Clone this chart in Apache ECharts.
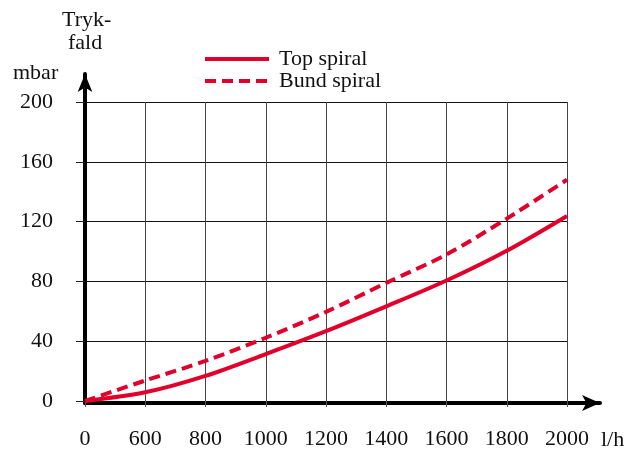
<!DOCTYPE html>
<html>
<head>
<meta charset="utf-8">
<script src="https://cdn.jsdelivr.net/npm/echarts@6/dist/echarts.min.js"></script>
<style>
  html, body { margin: 0; padding: 0; background: #fff; }
  #chart { width: 637px; height: 450px; }
</style>
</head>
<body>
<div id="chart"></div>
<script>
// flow in l/h, pressure drop in mbar
const flows = [0, 600, 800, 1000, 1200, 1400, 1600, 1800, 2000];
const topSpiral = [0, 5.8, 16.8, 31.4, 46.7, 63.3, 80.6, 100.5, 123.8];
const bundSpiral = [0, 13.7, 26.8, 42.3, 59.6, 79, 98, 122, 148];
const xTickLabels = [0, 600, 800, 1000, 1200, 1400, 1600, 1800, 2000];
const yTickLabels = [0, 40, 80, 120, 160, 200];

const RED = "#e1002b";
const FONT = "'Liberation Serif', 'DejaVu Serif', serif";
const FS = 22;

// the x axis is broken: 0..600 takes the room of one 200 step
const axisPos = (f) => (f < 600 ? 400 + f / 3 : f);
const posToLabel = (v) => {
  const i = xTickLabels.findIndex((t) => axisPos(t) === v);
  return i >= 0 ? String(xTickLabels[i]) : "";
};

const toPairs = (ys) => flows.map((f, i) => [axisPos(f), ys[i]]);

const chart = echarts.init(document.getElementById("chart"));

chart.setOption({
  animation: false,
  textStyle: { fontFamily: FONT },
  grid: [
    { left: 85, right: 70, top: 102, bottom: 47 },
    { left: 85, right: 37, top: 74, bottom: 47 },
  ],
  legend: {
    orient: "vertical",
    left: 198,
    top: 43,
    itemWidth: 64,
    itemHeight: 14,
    itemGap: 0,
    itemStyle: { opacity: 0 },
    lineStyle: { width: 4 },
    textStyle: { fontFamily: FONT, fontSize: FS, color: "#111", padding: [0, 0, 0, 5] },
    data: ["Top spiral", "Bund spiral"],
  },
  xAxis: [
    {
      gridIndex: 0,
      type: "value",
      min: 400,
      max: 2000,
      interval: 200,
      axisLine: { show: false },
      axisTick: { show: true, length: 6, lineStyle: { color: "#555" } },
      axisLabel: {
        margin: 27,
        fontFamily: FONT,
        fontSize: FS,
        color: "#111",
        formatter: posToLabel,
      },
      splitLine: { show: true, lineStyle: { color: "#444", width: 1 } },
    },
    {
      gridIndex: 1,
      type: "value",
      min: 0,
      max: 1,
      axisLine: {
        show: true,
        lineStyle: { color: "#000", width: 4 },
        symbol: ["none", "arrow"],
        symbolSize: [12, 18],
      },
      axisTick: { show: false },
      axisLabel: { show: false },
      splitLine: { show: false },
    },
  ],
  yAxis: [
    {
      gridIndex: 0,
      type: "value",
      min: 0,
      max: 200,
      interval: 40,
      axisLine: { show: false },
      axisTick: { show: true, length: 9, lineStyle: { color: "#222" } },
      axisLabel: {
        margin: 32,
        fontFamily: FONT,
        fontSize: FS,
        color: "#111",
        formatter: (v) => (yTickLabels.includes(v) ? String(v) : ""),
      },
      splitLine: { show: true, lineStyle: { color: "#111", width: 1 } },
    },
    {
      gridIndex: 1,
      type: "value",
      min: 0,
      max: 1,
      axisLine: {
        show: true,
        lineStyle: { color: "#000", width: 4 },
        symbol: ["none", "arrow"],
        symbolSize: [11, 18],
      },
      axisTick: { show: false },
      axisLabel: { show: false },
      splitLine: { show: false },
    },
  ],
  series: [
    {
      name: "Top spiral",
      type: "line",
      xAxisIndex: 0,
      yAxisIndex: 0,
      smooth: 0.3,
      symbol: "none",
      color: RED,
      lineStyle: { color: RED, width: 4 },
      data: toPairs(topSpiral),
      z: 5,
    },
    {
      name: "Bund spiral",
      type: "line",
      xAxisIndex: 0,
      yAxisIndex: 0,
      smooth: 0.3,
      symbol: "none",
      color: RED,
      lineStyle: { color: RED, width: 4, type: [11, 6] },
      data: toPairs(bundSpiral),
      z: 5,
    },
  ],
  graphic: [
    { type: "text", left: 62, top: 9, style: { text: "Tryk-", font: `${FS}px ${FONT}`, fill: "#111" } },
    { type: "text", left: 68, top: 32, style: { text: "fald", font: `${FS}px ${FONT}`, fill: "#111" } },
    { type: "text", left: 13, top: 62, style: { text: "mbar", font: `${FS}px ${FONT}`, fill: "#111" } },
    { type: "text", left: 601, top: 429, style: { text: "l/h", font: `${FS}px ${FONT}`, fill: "#111" } },
  ],
});
</script>
</body>
</html>
